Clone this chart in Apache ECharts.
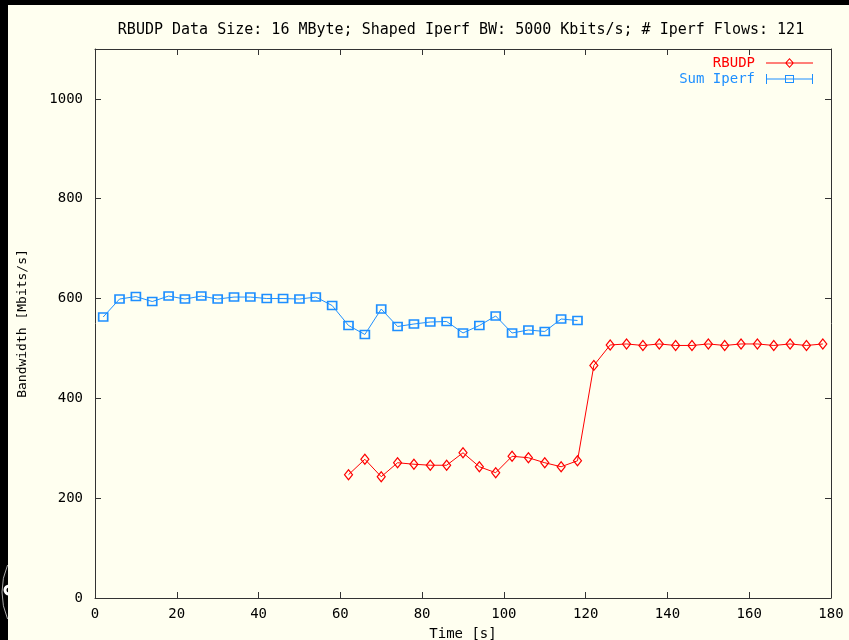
<!DOCTYPE html>
<html>
<head>
<meta charset="utf-8">
<script src="https://cdn.jsdelivr.net/npm/echarts@6/dist/echarts.min.js"></script>
<style>
html,body{margin:0;padding:0;background:#fffff0;}
#chart{width:849px;height:640px;}
</style>
</head>
<body>
<div id="chart"></div>
<script>
var titleText = 'RBUDP Data Size: 16 MByte; Shaped Iperf BW: 5000 Kbits/s; # Iperf Flows: 121';
var xTitle = 'Time [s]';
var yTitle = 'Bandwidth [Mbits/s]';

var iperfTime = [2, 6, 10, 14, 18, 22, 26, 30, 34, 38, 42, 46, 50, 54, 58, 62, 66, 70, 74, 78, 82, 86, 90, 94, 98, 102, 106, 110, 114, 118];
var iperfBW   = [563, 599, 604, 594, 605, 599, 605, 599, 603, 603, 600, 600, 599, 603, 586, 546, 528, 579, 544, 549, 553, 554, 531, 546, 565, 531, 537, 534, 559, 556];

var rbudpTime = [62, 66, 70, 74, 78, 82, 86, 90, 94, 98, 102, 106, 110, 114, 118, 122, 126, 130, 134, 138, 142, 146, 150, 154, 158, 162, 166, 170, 174, 178];
var rbudpBW   = [247, 278, 243, 271, 268, 266, 266, 291, 263, 251, 284, 281, 271, 263, 275, 466, 507, 509, 506, 509, 506, 506, 509, 506, 509, 509, 506, 509, 506, 509];

var xMin = 0, xMax = 180, xStep = 20;
var yMin = 0, yMax = 1100, yStep = 200;
var yTickValues = [0, 200, 400, 600, 800, 1000];

function pairs(xs, ys) { return xs.map(function (x, i) { return [x, ys[i]]; }); }

var RED = '#ff0000';
var BLUE = '#1e8fff';
var FONT = 'DejaVu Sans Mono';
var AXIS = '#333333';

var chart = echarts.init(document.getElementById('chart'), null, {renderer: 'canvas'});

function axisBase(extra) {
  var a = {
    type: 'value',
    axisLine: {show: true, onZero: false, lineStyle: {color: AXIS, width: 1}},
    axisTick: {show: true, inside: true, length: 6, lineStyle: {color: AXIS}},
    splitLine: {show: false},
    axisLabel: {color: '#000', fontFamily: FONT, fontSize: 14}
  };
  for (var k in extra) a[k] = extra[k];
  return a;
}

chart.setOption({
  backgroundColor: '#fffff0',
  animation: false,
  title: {
    text: titleText,
    left: 456, top: 18, textAlign: 'center',
    textStyle: {fontFamily: FONT, fontSize: 15, fontWeight: 'normal', color: '#000'}
  },
  legend: {
    orient: 'vertical',
    right: 36, top: 56,
    padding: 0,
    align: 'right',
    itemWidth: 47, itemHeight: 10, itemGap: 2,
    textStyle: {fontFamily: FONT, fontSize: 14, lineHeight: 12, padding: [0, 6, 0, 0]},
    data: [
      {name: 'RBUDP', icon: 'path://M0,4.5h47v1h-47z M23.5,0 L28,5 L23.5,10 L19,5 Z M23.5,1.5 L20.4,5 L23.5,8.5 L26.6,5 Z',
       itemStyle: {color: RED, borderWidth: 0}, textStyle: {color: RED}},
      {name: 'Sum Iperf', icon: 'path://M0,0h1v10h-1z M0,4.5h47v1h-47z M46,0h1v10h-1z M19,1h9v8h-9z M20,2v6h7v-6z',
       itemStyle: {color: BLUE, borderWidth: 0}, textStyle: {color: BLUE}}
    ]
  },
  grid: {left: 95, right: 18, top: 49, bottom: 42, containLabel: false, outerBoundsMode: 'none'},
  xAxis: [
    axisBase({
      min: xMin, max: xMax, interval: xStep, position: 'bottom',
      name: xTitle, nameLocation: 'middle', nameGap: 29,
      nameTextStyle: {fontFamily: FONT, fontSize: 14, color: '#000'},
      axisLabel: {color: '#000', fontFamily: FONT, fontSize: 14, margin: 9}
    }),
    axisBase({
      min: xMin, max: xMax, interval: xStep, position: 'top',
      axisLabel: {show: false}
    })
  ],
  yAxis: [
    axisBase({
      min: yMin, max: yMax, interval: yStep, position: 'left',
      name: yTitle, nameLocation: 'middle', nameGap: 66, nameRotate: 90,
      nameTextStyle: {fontFamily: FONT, fontSize: 13, color: '#000'},
      axisLabel: {color: '#000', fontFamily: FONT, fontSize: 14, margin: 12,
        formatter: function (v) { return v > 1000 ? '' : String(v); }},
      axisTick: {show: true, inside: true, length: 6, lineStyle: {color: AXIS},
        customValues: yTickValues}
    }),
    axisBase({
      min: yMin, max: yMax, interval: yStep, position: 'right',
      axisLabel: {show: false},
      axisTick: {show: true, inside: true, length: 6, lineStyle: {color: AXIS},
        customValues: yTickValues}
    })
  ],
  series: [
    {
      name: 'RBUDP', type: 'line',
      data: pairs(rbudpTime, rbudpBW),
      symbol: 'diamond', symbolSize: [8, 10],
      lineStyle: {color: RED, width: 1},
      itemStyle: {color: 'rgba(0,0,0,0)', borderColor: RED, borderWidth: 1.2},
      z: 3
    },
    {
      name: 'Sum Iperf', type: 'line',
      data: pairs(iperfTime, iperfBW),
      symbol: 'rect', symbolSize: [9, 8],
      lineStyle: {color: BLUE, width: 1},
      itemStyle: {color: 'rgba(0,0,0,0)', borderColor: BLUE, borderWidth: 1.6},
      z: 3
    }
  ],
  graphic: [
    {type: 'rect', left: 0, top: 0, shape: {width: 849, height: 5}, style: {fill: '#000'}, silent: true},
    {type: 'rect', left: 0, top: 0, shape: {width: 8, height: 640}, style: {fill: '#000'}, silent: true},
    {type: 'group', silent: true, children: [
      {type: 'arc', shape: {cx: 70, cy: 592, r: 68, startAngle: Math.PI * 0.87, endAngle: Math.PI * 1.13},
       style: {stroke: '#aaaaaa', lineWidth: 1, fill: null}},
      {type: 'arc', shape: {cx: 9, cy: 590, r: 4, startAngle: Math.PI * 0.5, endAngle: Math.PI * 1.5},
       style: {stroke: '#ffffff', lineWidth: 3, fill: null}}
    ]}
  ]
});
</script>
</body>
</html>
